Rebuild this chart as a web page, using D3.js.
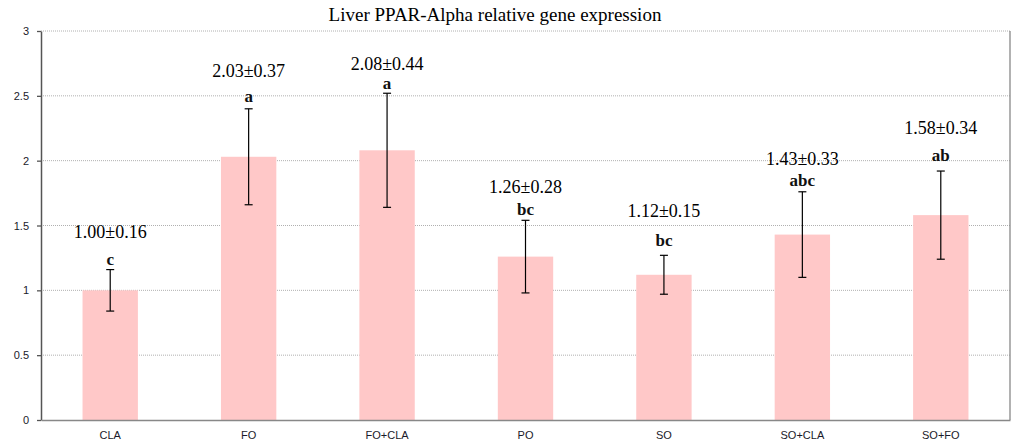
<!DOCTYPE html>
<html><head><meta charset="utf-8">
<script src="https://cdn.jsdelivr.net/npm/d3@7"></script>
<style>body{margin:0;background:#fff}svg{display:block}</style>
</head><body>
<svg id="c" width="1024" height="446"></svg>
<script>
const categories = ["CLA","FO","FO+CLA","PO","SO","SO+CLA","SO+FO"];
const means = [1.00, 2.03, 2.08, 1.26, 1.12, 1.43, 1.58];
const sds = [0.16, 0.37, 0.44, 0.28, 0.15, 0.33, 0.34];
const letters = ["c","a","a","bc","bc","abc","ab"];
const yTicks = [0, 0.5, 1, 1.5, 2, 2.5, 3];

// layout: hand-placed annotation offsets (pixels) as in the original
const letterGap = [5, 7, 4, 5, 9, 6, 10];
const valueGap = [27, 25, 19, 22, 29, 21, 27];

const svg = d3.select("#c");
const m = {l:41, r:1010, t:31, b:420};
const x = d3.scaleBand().domain(categories).range([m.l, m.r]).paddingInner(0).paddingOuter(0);
const y = d3.scaleLinear().domain([0,3]).range([m.b, m.t]);

// gridlines
svg.append("g").selectAll("line").data(yTicks.filter(d=>d>0)).join("line")
  .attr("x1", m.l).attr("x2", m.r).attr("y1", d=>y(d)).attr("y2", d=>y(d))
  .attr("stroke", "#b0b0b0").attr("stroke-width", 1).attr("stroke-dasharray", "1,1");

// right border
svg.append("line").attr("x1", m.r).attr("x2", m.r).attr("y1", m.t).attr("y2", m.b)
  .attr("stroke", "#888").attr("stroke-width", 1.3);

// bars
const bw = x.bandwidth()*0.4;
svg.append("g").selectAll("rect").data(categories).join("rect")
  .attr("x", d=>x(d)+x.bandwidth()/2-bw/2).attr("width", bw)
  .attr("y", (d,i)=>y(means[i])).attr("height", (d,i)=>y(0)-y(means[i]))
  .attr("fill", "#ffc8c8");

// error bars
const eb = svg.append("g").attr("stroke", "#000").attr("stroke-width", 1.2);
categories.forEach((c,i)=>{
  const cx = x(c)+x.bandwidth()/2;
  const t = y(means[i]+sds[i]), b = y(means[i]-sds[i]);
  eb.append("line").attr("x1", cx).attr("x2", cx).attr("y1", t).attr("y2", b);
  eb.append("line").attr("x1", cx-4).attr("x2", cx+4).attr("y1", t).attr("y2", t);
  eb.append("line").attr("x1", cx-4).attr("x2", cx+4).attr("y1", b).attr("y2", b);
});

// labels
const lab = svg.append("g").attr("font-family", "'Liberation Serif','Times New Roman',serif").attr("text-anchor", "middle").attr("fill", "#000");
categories.forEach((c,i)=>{
  const cx = x(c)+x.bandwidth()/2;
  const t = y(means[i]+sds[i]);
  const lb = t - letterGap[i];
  lab.append("text").attr("x", cx).attr("y", lb).attr("font-size", 17).attr("font-weight", "bold").attr("fill","#111").text(letters[i]);
  lab.append("text").attr("x", cx).attr("y", lb - valueGap[i]).attr("font-size", 18).text(means[i].toFixed(2)+"±"+sds[i].toFixed(2));
});

// y axis
const ya = svg.append("g").attr("transform", `translate(${m.l},0)`)
  .call(d3.axisLeft(y).tickValues(yTicks).tickSize(4).tickSizeOuter(0).tickFormat(d3.format("")));
ya.select(".domain").attr("stroke", "#555").attr("stroke-width", 1.5);
ya.selectAll(".tick line").attr("stroke", "#555").attr("stroke-width", 1.3);
ya.selectAll(".tick text").attr("font-family", "'Liberation Sans',Arial,sans-serif").attr("font-size", 11).attr("fill", "#1a1a2a").attr("x", -12);

// x axis
const xa = svg.append("g").attr("transform", `translate(0,${m.b})`)
  .call(d3.axisBottom(x).tickSize(0).tickSizeOuter(0));
xa.select(".domain").attr("stroke", "#888").attr("stroke-width", 1.5);
xa.selectAll(".tick text").attr("font-family", "'Liberation Sans',Arial,sans-serif").attr("font-size", 11).attr("fill", "#1a1a2a").attr("dy", "0").attr("y", 19);

// title
svg.append("text").attr("x", 495).attr("y", 21).attr("text-anchor", "middle")
  .attr("font-family", "'Liberation Serif','Times New Roman',serif").attr("font-size", 19).text("Liver PPAR-Alpha relative gene expression");
</script>
</body></html>
